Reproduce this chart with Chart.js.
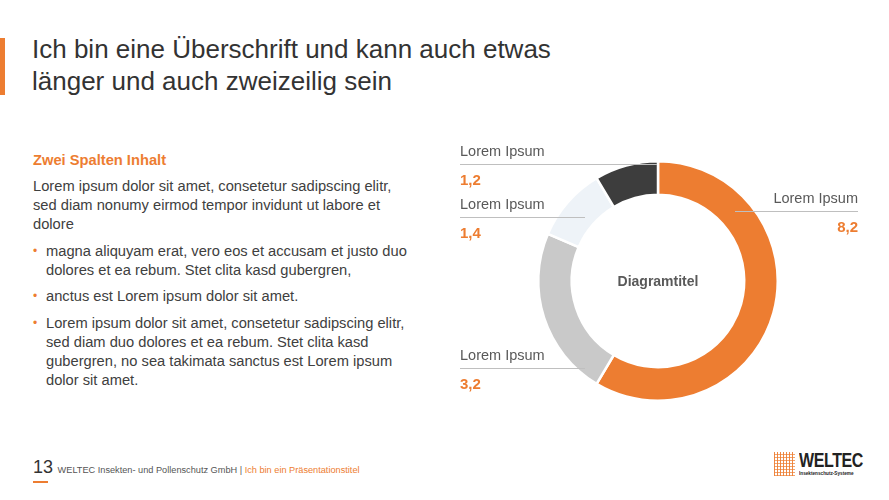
<!DOCTYPE html>
<html lang="de">
<head>
<meta charset="utf-8">
<title>Diagramm</title>
<script src="https://cdn.jsdelivr.net/npm/chart.js@4.4.0/dist/chart.umd.min.js"></script>
<style>
  html, body { margin: 0; padding: 0; }
  body {
    width: 889px; height: 500px; position: relative; overflow: hidden;
    background: #fff; font-family: "Liberation Sans", Arial, sans-serif; color: #404040;
  }
  .accent { position: absolute; left: 0; top: 38px; width: 5px; height: 57px; background: #ED7D31; }
  h1 {
    position: absolute; left: 32px; top: 33px; margin: 0;
    font-weight: normal; font-size: 26px; line-height: 32px; color: #333;
  }
  .content { position: absolute; left: 33px; top: 151px; width: 381px; font-size: 14.7px; line-height: 19.3px; }
  .content h2 { margin: 0 0 6.5px 0; font-size: 14.7px; color: #ED7D31; font-weight: bold; }
  .content p { margin: 0 0 7px 0; }
  .content ul { margin: 0; padding: 0; list-style: none; }
  .content li { position: relative; padding-left: 13px; margin-bottom: 7px; }
  .content li::before { content: "\2022"; position: absolute; left: 0; color: #ED7D31; font-size: 12px; }
  #chartBox { position: absolute; left: 440px; top: 130px; width: 440px; height: 280px; }
  .footer { position: absolute; left: 33px; top: 457px; font-size: 9.2px; color: #555; white-space: nowrap; }
  .footer .num { font-size: 18px; color: #333; margin-right: 2px; }
  .footer .pres { color: #ED7D31; }
  .footer .bar { position: absolute; left: 0; top: 24px; width: 15px; height: 2px; background: #ED7D31; }
  .logo { position: absolute; left: 774px; top: 452px; width: 95px; height: 26px; }
  .logo .grid {
    position: absolute; left: 0; top: 0; width: 21px; height: 24px;
    background:
      repeating-linear-gradient(90deg, rgba(237,125,49,0.9) 0 1px, transparent 1px 3px),
      repeating-linear-gradient(0deg, rgba(237,125,49,0.7) 0 1px, transparent 1px 3px);
  }
  .logo .name {
    position: absolute; left: 25px; top: -3px; font: bold 20px "Liberation Sans", sans-serif; color: #222;
    letter-spacing: -0.5px; transform: scaleX(0.8); transform-origin: 0 0;
  }
  .logo .sub {
    position: absolute; left: 25px; top: 18px; font: bold 5.5px "Liberation Sans", sans-serif; color: #222;
    transform: scaleX(0.85); transform-origin: 0 0; white-space: nowrap;
  }
</style>
</head>
<body>
<div class="accent"></div>
<h1>Ich bin eine Überschrift und kann auch etwas<br>länger und auch zweizeilig sein</h1>

<div class="content">
  <h2>Zwei Spalten Inhalt</h2>
  <p>Lorem ipsum dolor sit amet, consetetur sadipscing elitr, sed diam nonumy eirmod tempor invidunt ut labore et dolore</p>
  <ul>
    <li>magna aliquyam erat, vero eos et accusam et justo duo dolores et ea rebum. Stet clita kasd gubergren,</li>
    <li>anctus est Lorem ipsum dolor sit amet.</li>
    <li>Lorem ipsum dolor sit amet, consetetur sadipscing elitr, sed diam duo dolores et ea rebum. Stet clita kasd gubergren, no sea takimata sanctus est Lorem ipsum dolor sit amet.</li>
  </ul>
</div>

<div id="chartBox"><canvas id="donutChart"></canvas></div>

<div class="footer"><span class="num">13</span> WELTEC Insekten- und Pollenschutz GmbH | <span class="pres">Ich bin ein Präsentationstitel</span><div class="bar"></div></div>
<div class="logo"><div class="grid"></div><div class="name">WELTEC</div><div class="sub">Insektenschutz-Systeme</div></div>

<script>
// Chart data
const categories = ['Lorem Ipsum', 'Lorem Ipsum', 'Lorem Ipsum', 'Lorem Ipsum'];
const values = [8.2, 3.2, 1.4, 1.2];
const chartTitle = 'Diagramtitel';

const sliceColors = ['#ED7D31', '#C9C9C9', '#EEF3F8', '#3D3D3D'];

// where each callout sits inside the canvas (label line y, x range, text alignment)
const calloutLayout = [
    { lineY: 81, x1: 295, x2: 418, align: 'right' },
    { lineY: 238, x1: 20, x2: 145, align: 'left' },
    { lineY: 87, x1: 20, x2: 145, align: 'left' },
    { lineY: 34, x1: 20, x2: 217, align: 'left' }
];

function formatValue(v) {
    return v.toFixed(1).replace('.', ',');
}

// Draws the callout labels and the centre title
const calloutPlugin = {
    id: 'callouts',
    afterDraw(chart) {
        const ctx = chart.ctx;
        const meta = chart.getDatasetMeta(0);
        ctx.save();
        meta.data.forEach(function(arc, i) {
            const l = calloutLayout[i];
            ctx.strokeStyle = '#BFBFBF';
            ctx.lineWidth = 1;
            ctx.beginPath();
            ctx.moveTo(l.x1, l.lineY + 0.5);
            ctx.lineTo(l.x2, l.lineY + 0.5);
            ctx.stroke();

            const tx = l.align === 'right' ? l.x2 : l.x1;
            ctx.textAlign = l.align;
            ctx.textBaseline = 'alphabetic';
            ctx.fillStyle = '#595959';
            ctx.font = '14.5px "Liberation Sans", Arial, sans-serif';
            ctx.fillText(categories[i], tx, l.lineY - 8);
            ctx.fillStyle = '#ED7D31';
            ctx.font = 'bold 15px "Liberation Sans", Arial, sans-serif';
            ctx.fillText(formatValue(values[i]), tx, l.lineY + 21);
        });
        const a = meta.data[0];
        ctx.textAlign = 'center';
        ctx.textBaseline = 'middle';
        ctx.fillStyle = '#595959';
        ctx.font = 'bold 14px "Liberation Sans", Arial, sans-serif';
        ctx.fillText(chartTitle, a.x, a.y + 1);
        ctx.restore();
    }
};

new Chart(document.getElementById('donutChart'), {
    type: 'doughnut',
    data: {
        labels: categories,
        datasets: [{
            data: values,
            backgroundColor: sliceColors,
            borderColor: '#ffffff',
            borderWidth: 2.5
        }]
    },
    options: {
        responsive: true,
        maintainAspectRatio: false,
        animation: false,
        cutout: '72%',
        layout: { padding: { left: 0, right: 4, top: 30, bottom: 8 } },
        plugins: {
            legend: { display: false },
            tooltip: { enabled: false }
        }
    },
    plugins: [calloutPlugin]
});
</script>
</body>
</html>
